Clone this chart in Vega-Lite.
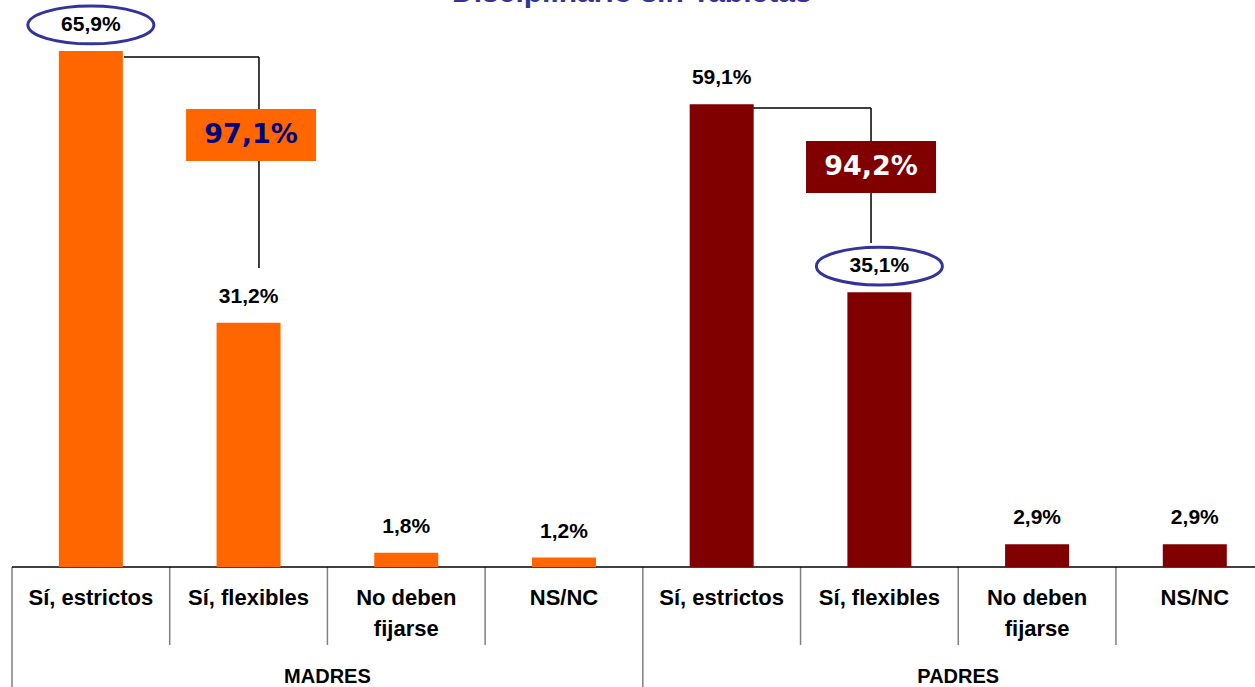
{
  "$schema": "https://vega.github.io/schema/vega-lite/v6.json",
  "width": 1255,
  "height": 687,
  "autosize": {"type": "none"},
  "padding": 0,
  "background": "white",
  "config": {"view": {"stroke": null}},
  "datasets": {
    "bars": [
      {"grupo": "MADRES", "cat": "Sí, estrictos", "pos": 0.5, "pct": 65.9, "label": "65,9%", "destacado": true},
      {"grupo": "MADRES", "cat": "Sí, flexibles", "pos": 1.5, "pct": 31.2, "label": "31,2%", "destacado": false},
      {"grupo": "MADRES", "cat": "No deben\nfijarse", "pos": 2.5, "pct": 1.8, "label": "1,8%", "destacado": false},
      {"grupo": "MADRES", "cat": "NS/NC", "pos": 3.5, "pct": 1.2, "label": "1,2%", "destacado": false},
      {"grupo": "PADRES", "cat": "Sí, estrictos", "pos": 4.5, "pct": 59.1, "label": "59,1%", "destacado": false},
      {"grupo": "PADRES", "cat": "Sí, flexibles", "pos": 5.5, "pct": 35.1, "label": "35,1%", "destacado": true},
      {"grupo": "PADRES", "cat": "No deben\nfijarse", "pos": 6.5, "pct": 2.9, "label": "2,9%", "destacado": false},
      {"grupo": "PADRES", "cat": "NS/NC", "pos": 7.5, "pct": 2.9, "label": "2,9%", "destacado": false}
    ],
    "groups": [
      {"grupo": "MADRES", "pos": 2.0},
      {"grupo": "PADRES", "pos": 6.0}
    ],
    "lines": [
      {"x1": 0, "x2": 0, "y1": 0, "y2": -15.6, "kind": "sep"},
      {"x1": 1, "x2": 1, "y1": 0, "y2": -9.96, "kind": "sep"},
      {"x1": 2, "x2": 2, "y1": 0, "y2": -9.96, "kind": "sep"},
      {"x1": 3, "x2": 3, "y1": 0, "y2": -9.96, "kind": "sep"},
      {"x1": 4, "x2": 4, "y1": 0, "y2": -15.6, "kind": "sep"},
      {"x1": 5, "x2": 5, "y1": 0, "y2": -9.96, "kind": "sep"},
      {"x1": 6, "x2": 6, "y1": 0, "y2": -9.96, "kind": "sep"},
      {"x1": 7, "x2": 7, "y1": 0, "y2": -9.96, "kind": "sep"},
      {"x1": 0, "x2": 7.95, "y1": 0, "y2": 0, "kind": "base"},
      {"x1": 0.71, "x2": 1.566, "y1": 65.13, "y2": 65.13, "kind": "conn"},
      {"x1": 1.566, "x2": 1.566, "y1": 65.13, "y2": 38.19, "kind": "conn"},
      {"x1": 4.699, "x2": 5.447, "y1": 58.62, "y2": 58.62, "kind": "conn"},
      {"x1": 5.447, "x2": 5.447, "y1": 58.62, "y2": 41.38, "kind": "conn"}
    ],
    "totals": [
      {"grupo": "MADRES", "total": "97,1%", "cx": 1.516, "cy": 55.17},
      {"grupo": "PADRES", "total": "94,2%", "cx": 5.447, "cy": 51.09}
    ],
    "titulo": [
      {"t": "Disciplinario sin Tabletas", "tx": 3.93, "ty": 72.2}
    ]
  },
  "layer": [
    {
      "data": {"name": "titulo"},
      "mark": {"type": "text", "font": "Liberation Sans", "fontWeight": "bold", "fontSize": 30, "color": "#333399", "baseline": "alphabetic", "align": "center"},
      "encoding": {
        "x": {"field": "tx", "type": "quantitative", "scale": {"domain": [-0.0444, 7.85], "nice": false, "zero": false}, "axis": null},
        "y": {"field": "ty", "type": "quantitative", "scale": {"domain": [-15.33, 72.41], "nice": false, "zero": false}, "axis": null},
        "text": {"field": "t", "type": "nominal"}
      }
    },
    {
      "data": {"name": "lines"},
      "mark": {"type": "rule", "strokeWidth": 1.5},
      "encoding": {
        "x": {"field": "x1", "type": "quantitative", "scale": {"domain": [-0.0444, 7.85], "nice": false, "zero": false}, "axis": null},
        "x2": {"field": "x2"},
        "y": {"field": "y1", "type": "quantitative", "scale": {"domain": [-15.33, 72.41], "nice": false, "zero": false}, "axis": null},
        "y2": {"field": "y2"},
        "stroke": {"condition": {"test": "datum.kind === 'sep'", "value": "#7f7f7f"}, "value": "#000000"}
      }
    },
    {
      "data": {"name": "bars"},
      "mark": {"type": "bar", "orient": "vertical", "width": 64},
      "encoding": {
        "x": {"field": "pos", "type": "quantitative", "scale": {"domain": [-0.0444, 7.85], "nice": false, "zero": false}, "axis": null},
        "y": {"field": "pct", "type": "quantitative", "scale": {"domain": [-15.33, 72.41], "nice": false, "zero": false}, "axis": null},
        "color": {"field": "grupo", "type": "nominal", "scale": {"domain": ["MADRES", "PADRES"], "range": ["#FF6600", "#800000"]}, "legend": null}
      }
    },
    {
      "data": {"name": "bars"},
      "mark": {"type": "text", "font": "Liberation Sans", "fontWeight": "bold", "fontSize": 21, "color": "#000000", "baseline": "middle", "align": "center", "dy": -26},
      "encoding": {
        "x": {"field": "pos", "type": "quantitative", "scale": {"domain": [-0.0444, 7.85], "nice": false, "zero": false}, "axis": null},
        "y": {"field": "pct", "type": "quantitative", "scale": {"domain": [-15.33, 72.41], "nice": false, "zero": false}, "axis": null},
        "text": {"field": "label", "type": "nominal"}
      }
    },
    {
      "data": {"name": "bars"},
      "transform": [{"filter": "datum.destacado"}],
      "mark": {"type": "point", "shape": "M -1 0 A 1 0.3 0 1 0 1 0 A 1 0.3 0 1 0 -1 0 Z", "filled": false, "stroke": "#333399", "strokeWidth": 3, "size": 15876, "yOffset": -26, "opacity": 1},
      "encoding": {
        "x": {"field": "pos", "type": "quantitative", "scale": {"domain": [-0.0444, 7.85], "nice": false, "zero": false}, "axis": null},
        "y": {"field": "pct", "type": "quantitative", "scale": {"domain": [-15.33, 72.41], "nice": false, "zero": false}, "axis": null}
      }
    },
    {
      "data": {"name": "bars"},
      "mark": {"type": "text", "font": "Liberation Sans", "fontWeight": "bold", "fontSize": 22, "color": "#000000", "baseline": "top", "align": "center", "lineBreak": "\n", "lineHeight": 31},
      "encoding": {
        "x": {"field": "pos", "type": "quantitative", "scale": {"domain": [-0.0444, 7.85], "nice": false, "zero": false}, "axis": null},
        "y": {"datum": -2.65, "type": "quantitative", "scale": {"domain": [-15.33, 72.41], "nice": false, "zero": false}, "axis": null},
        "text": {"field": "cat", "type": "nominal"}
      }
    },
    {
      "data": {"name": "groups"},
      "mark": {"type": "text", "font": "Liberation Sans", "fontWeight": "bold", "fontSize": 20, "color": "#000000", "baseline": "alphabetic", "align": "center"},
      "encoding": {
        "x": {"field": "pos", "type": "quantitative", "scale": {"domain": [-0.0444, 7.85], "nice": false, "zero": false}, "axis": null},
        "y": {"datum": -14.8, "type": "quantitative", "scale": {"domain": [-15.33, 72.41], "nice": false, "zero": false}, "axis": null},
        "text": {"field": "grupo", "type": "nominal"}
      }
    },
    {
      "data": {"name": "totals"},
      "mark": {"type": "point", "shape": "M -1 -0.4 L 1 -0.4 L 1 0.4 L -1 0.4 Z", "filled": true, "size": 16900, "opacity": 1},
      "encoding": {
        "x": {"field": "cx", "type": "quantitative", "scale": {"domain": [-0.0444, 7.85], "nice": false, "zero": false}, "axis": null},
        "y": {"field": "cy", "type": "quantitative", "scale": {"domain": [-15.33, 72.41], "nice": false, "zero": false}, "axis": null},
        "color": {"field": "grupo", "type": "nominal", "scale": {"domain": ["MADRES", "PADRES"], "range": ["#FF6600", "#800000"]}, "legend": null}
      }
    },
    {
      "data": {"name": "totals"},
      "mark": {"type": "text", "font": "DejaVu Sans", "fontWeight": "bold", "fontSize": 27, "baseline": "middle", "align": "center"},
      "encoding": {
        "x": {"field": "cx", "type": "quantitative", "scale": {"domain": [-0.0444, 7.85], "nice": false, "zero": false}, "axis": null},
        "y": {"field": "cy", "type": "quantitative", "scale": {"domain": [-15.33, 72.41], "nice": false, "zero": false}, "axis": null},
        "text": {"field": "total", "type": "nominal"},
        "color": {"condition": {"test": "datum.grupo === 'MADRES'", "value": "#000080"}, "value": "#ffffff"}
      }
    }
  ]
}
